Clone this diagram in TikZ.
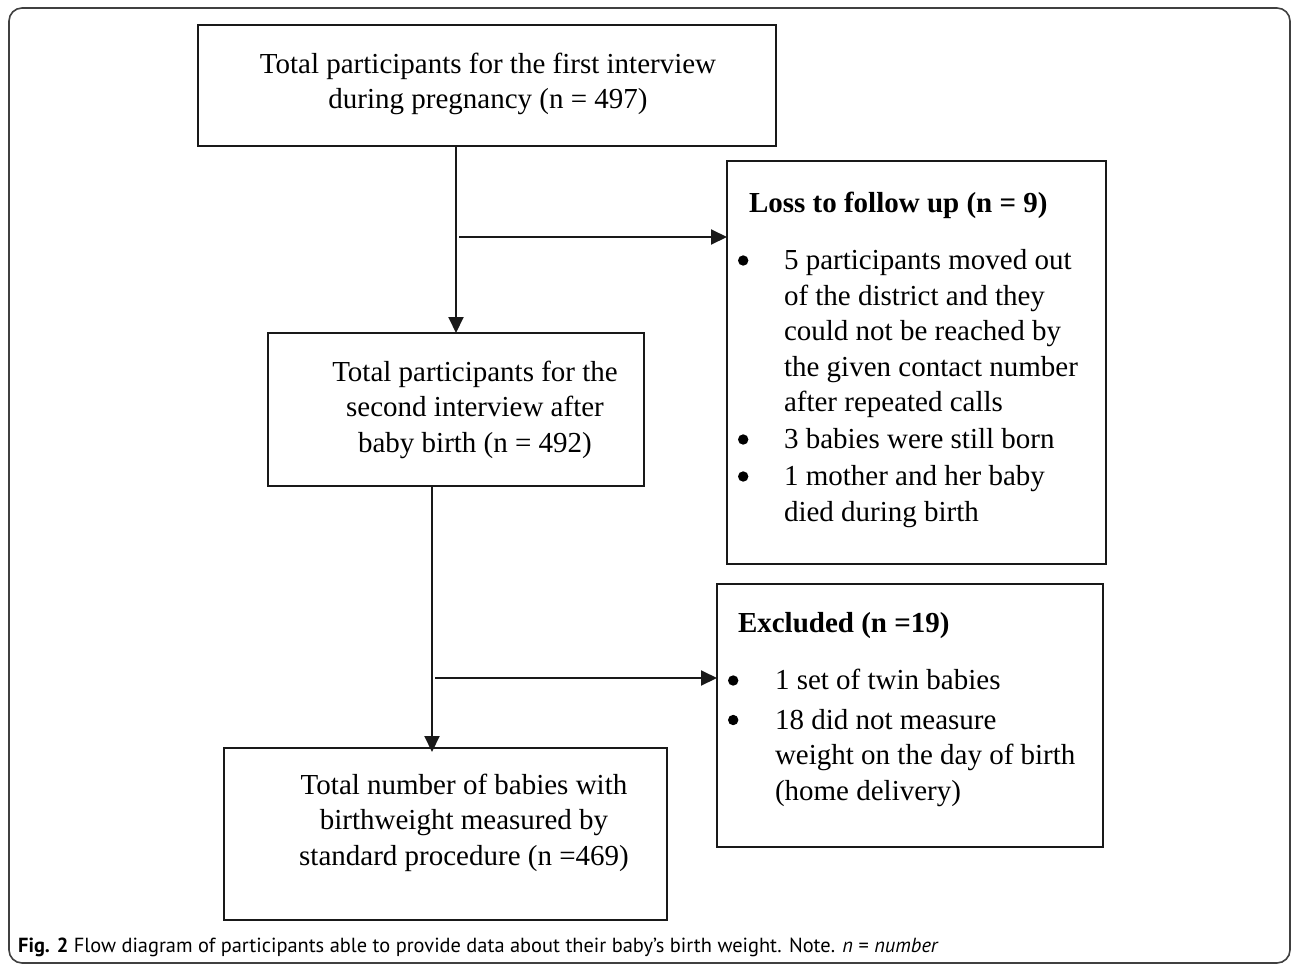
\documentclass[tikz,border=0pt]{standalone}
\usepackage{fontspec}
\setmainfont{Liberation Serif}
\newfontfamily\capfont{PT Sans}
\usetikzlibrary{arrows.meta}
\newcommand\mydot{\tikz[baseline={(0pt,-9pt)}]\fill (5.2pt,0pt) circle (5.2pt);}
\newcommand\mybul{\makebox[46pt][l]{\mydot}}
\newcommand\myind{\hspace*{46pt}}
\newcommand\mybulb{\makebox[47pt][l]{\mydot}}
\newcommand\myindb{\hspace*{47pt}}
\begin{document}
\begin{tikzpicture}[x=1pt,y=-1pt,
  box/.style={draw=black!90,line width=2pt,rectangle,inner sep=0pt,outer sep=0pt},
  txt/.style={inner sep=0pt,outer sep=0pt,font=\fontsize{29}{35.5}\selectfont},
  arr/.style={draw=black!90,line width=2pt,-{Triangle[length=16pt,width=15pt]}},
  frame/.style={draw=black!75,line width=1.6pt,rounded corners=13pt}]
\useasboundingbox (0,0) rectangle (1292,966);
\draw[frame] (9,8) rectangle (1290,963);
% boxes
\node[box,minimum width=578pt,minimum height=121pt] (b1) at (487,85.5) {};
\node[box,minimum width=376pt,minimum height=153pt] (b2) at (456,409.5) {};
\node[box,minimum width=379pt,minimum height=403pt] (b3) at (916.5,362.5) {};
\node[box,minimum width=386pt,minimum height=263pt] (b4) at (910,715.5) {};
\node[box,minimum width=443pt,minimum height=172pt] (b5) at (445.5,834) {};
% texts
\node[txt,align=center,anchor=north] (t1) at (488,48.15)
  {\strut Total participants for the first interview\\during pregnancy (n = 497)};
\node[txt,align=center,anchor=north] (t2) at (475,356.15)
  {\strut Total participants for the\\second interview after\\baby birth (n = 492)};
\node[txt,align=left,anchor=north west] (t3) at (738,187.15)
  {\strut\hspace*{11pt}\textbf{Loss to follow up (n = 9)}\\[22pt]
   \mybul 5 participants moved out\\
   \myind of the district and they\\
   \myind could not be reached by\\
   \myind the given contact number\\
   \myind after repeated calls\\[1.5pt]
   \mybul 3 babies were still born\\[1.5pt]
   \mybul 1 mother and her baby\\
   \myind died during birth};
\node[txt,align=left,anchor=north west] (t4) at (728,607.15)
  {\strut\hspace*{10pt}\textbf{Excluded (n =19)}\\[22pt]
   \mybulb 1 set of twin babies\\[4pt]
   \mybulb 18 did not measure\\
   \myindb weight on the day of birth\\
   \myindb (home delivery)};
\node[txt,align=center,anchor=north] (t5) at (464,769.15)
  {\strut Total number of babies with\\birthweight measured by\\standard procedure (n =469)};
% connectors
\draw[arr] (b1.south -| b2.north) -- (b2.north);
\coordinate (j1) at (459,237);
\draw[arr] (j1) -- (j1 -| b3.west);
\coordinate (c2) at (432,486);
\draw[arr] (c2) -- ([yshift=-4pt]c2 |- b5.north);
\coordinate (j2) at (435,678);
\draw[arr] (j2) -- (j2 -| b4.west);
% caption
\node[inner sep=0pt,anchor=base west,font=\capfont\fontsize{20.4}{24}\selectfont] (cap) at (18,952)
  {\textbf{Fig. 2} Flow diagram of participants able to provide data about their baby’s birth weight. Note. \textit{n} = \textit{number}};
\end{tikzpicture}
\end{document}
